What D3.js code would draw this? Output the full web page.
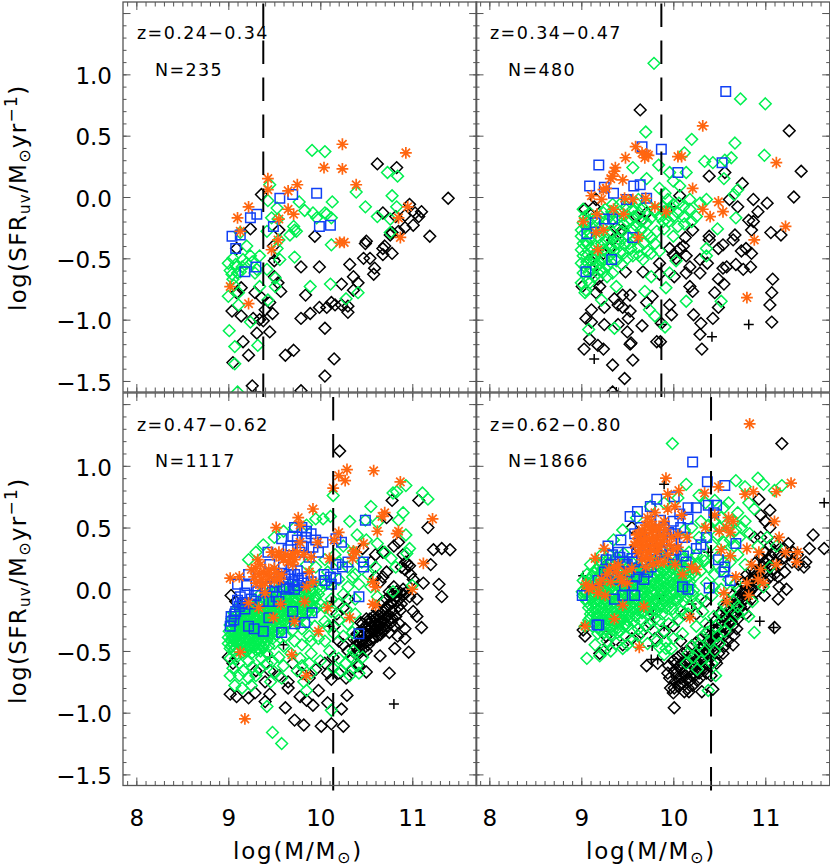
<!DOCTYPE html>
<html>
<head>
<meta charset="utf-8">
<script src="https://cdn.jsdelivr.net/npm/d3@7"></script>
<style>
body { margin: 0; background: #fff; }
text { font-family: "DejaVu Sans", sans-serif; fill: #000; }
</style>
</head>
<body>
<svg id="chart" width="830" height="867"></svg>
<script>
const zLabels = ["z=0.24\u22120.34", "z=0.34\u22120.47", "z=0.47\u22120.62", "z=0.62\u22120.80"];
const nLabels = ["N=235", "N=480", "N=1117", "N=1866"];
const massLimits = [9.38, 9.87, 10.14, 10.41];
const xTicks = [8, 9, 10, 11];
const yTicks = [-1.5, -1, -0.5, 0, 0.5, 1, 1.5];
const yLabelTicks = [-1.5, -1, -0.5, 0, 0.5, 1];

// z=0.24-0.34
const black1 = [[9.36,.02],[9.24,-.26],[9.09,-.42],[9.94,-.32],[10.62,.27],[10.83,.24],[11.39,-.01],[10.68,-.13],[10.82,-.16],[10.92,-.15],[10.97,-.06],[11.03,-.13],[11.1,-.12],[11.07,-.16],[11.01,-.23],[10.92,-.25],[10.85,-.28],[10.78,-.29],[10.76,-.31],[10.7,-.4],[10.68,-.42],[10.78,-.46],[10.68,-.47],[10.5,-.36],[10.49,-.38],[11.19,-.32],[10.47,-.5],[10.54,-.5],[10.59,-.58],[10.58,-.63],[10.32,-.55],[10.36,-.65],[10.41,-.7],[10.36,-.76],[10.23,-.71],[10.3,-.89],[10.3,-.94],[10.23,-.88],[10.16,-.88],[10.12,-.86],[10.07,-.9],[9.99,-.9],[9.89,-.95],[9.79,-.99],[9.84,-.8],[9.99,-.57],[9.79,-.57],[9.57,-.77],[9.54,-.7],[9.5,-.65],[9.5,-.52],[9.55,-.27],[9.49,-.4],[9.29,-.78],[9.36,-.82],[9.14,-.74],[9.09,-.78],[9.04,-.93],[9.14,-.97],[9.27,-.99],[9.34,-1],[9.38,-1.01],[9.4,-.92],[9.48,-.95],[9.45,-1.1],[9.31,-1.11],[9.16,-1.18],[9.22,-1.29],[9.05,-1.35],[9.62,-1.29],[9.71,-1.25],[10.05,-1.07],[10.15,-1.32],[10.05,-1.46],[9.79,-1.58],[9.26,-1.54],[9.45,-.86]];
const green1 = [[9.91,.38],[10.05,.37],[10.73,.2],[10.84,.17],[9.45,.1],[9.43,-.03],[9.77,-.04],[9.83,-.11],[9.53,-.09],[9.92,-.13],[9.96,-.17],[10.05,-.13],[10.07,-.14],[10.13,-.04],[10.49,-.08],[10.39,.04],[10.78,.01],[10.83,-.08],[10.62,-.16],[10.76,-.18],[10.76,-.29],[10.12,-.39],[10.12,-.17],[9.71,-.24],[9.72,-.27],[9.67,-.31],[9.74,-.28],[9.54,-.18],[9.47,-.17],[9.42,-.28],[9.53,-.42],[9.55,-.35],[9.72,-.49],[9.56,-.51],[9.34,-.48],[9.24,-.48],[9.16,-.51],[9.05,-.5],[9,-.54],[9.02,-.6],[9.04,-.63],[9.05,-.67],[9.09,-.57],[9.13,-.61],[9.2,-.54],[9.31,-.59],[9.29,-.62],[9.42,-.59],[9.34,-.73],[9.51,-.66],[9.51,-.73],[9.89,-.73],[10.11,-.71],[10.28,-.83],[10.41,-.78],[9.43,-.84],[9.11,-.78],[9.11,-.88],[9,-.81],[9.24,-1.02],[9.01,-1.09],[9.07,-1.22],[9.32,-1.21],[9.07,-1.36],[9.1,-1.59],[9.2,-.4],[9.13,-.29],[9.08,-.55],[9.1,-.62],[9.15,-.57],[9.26,-.53],[9.06,-.72]];
const blue1 = [[9.96,.03],[9.7,.02],[9.56,-.01],[9.31,-.14],[9.24,-.17],[9.49,-.24],[9.99,-.24],[10.11,-.23],[9.04,-.32],[9.13,-.31],[9.08,-.42],[9.18,-.61],[9.3,-.57]];
const orange1 = [[10.24,.43],[10.93,.36],[10.04,.24],[10.24,.23],[9.43,.15],[9.43,.06],[9.65,.05],[9.75,.1],[10.39,.1],[9.22,-.08],[9.1,-.17],[9.13,-.28],[9.65,-.1],[9.71,-.14],[9.55,-.18],[9.54,-.35],[9.47,-.43],[10.21,-.37],[10.26,-.37],[10.85,-.17],[10.95,-.08],[10.87,-.33],[9.02,-.73],[9.22,-.87]];
const plus1 = [[9.3,-1.59],[9.5,-.5]];

// z=0.34-0.47
const black2 = [[9.64,.71],[11.26,.54],[11.39,.21],[11.31,0],[10.39,.17],[10.56,.2],[10.75,.11],[10.87,-.02],[11.02,-.05],[10.92,-.12],[10.82,-.19],[10.87,-.2],[10.85,-.27],[11.06,-.29],[11.17,-.31],[10.61,-.02],[10.7,-.08],[10.21,-.27],[10.13,-.33],[10.39,-.32],[10.39,-.35],[10.67,-.31],[10.65,-.35],[10.49,-.42],[10.54,-.39],[10.79,-.42],[10.74,-.44],[10.85,-.46],[10.68,-.55],[10.58,-.57],[10.54,-.58],[10.76,-.59],[10.84,-.57],[11.08,-.67],[11.07,-.78],[11.05,-.88],[11.07,-1.02],[10.55,-.71],[10.49,-.67],[10.45,-.78],[10.49,-.9],[10.43,-.99],[10.3,-1.03],[10.29,-1.12],[10.31,-1.24],[10.22,-.96],[10.21,-.77],[10.18,-.73],[10.29,-.62],[10.37,-.54],[10.29,-.51],[10.18,-.57],[10.14,-.62],[10.11,-.4],[10.07,-.42],[10.14,-.48],[10.03,-.5],[9.96,-.42],[10,-.47],[10.01,-.65],[9.85,-.54],[9.85,-.63],[9.67,-.61],[9.48,-.61],[9.16,-.78],[9.2,-.73],[9.45,-.8],[9.53,-.8],[9.36,-.83],[9.4,-.88],[9.45,-.9],[9.53,-.93],[9.51,-.99],[9.4,-1.04],[9.25,-1.04],[9.11,-.92],[9.05,-.99],[9.11,-1.02],[9.25,-.9],[9.66,-1.05],[9.77,-.81],[9.71,-.86],[9.96,-.88],[9.98,-.96],[9.87,-1.03],[9.5,-1.1],[9.09,-1.16],[9.18,-1.21],[9.24,-1.24],[9.03,-1.24],[9.53,-1.2],[9.54,-1.19],[9.82,-1.18],[9.86,-1.18],[9.56,-1.33],[9.34,-1.37],[9.47,-1.48],[9.34,-1.59],[9.04,-.1],[9.16,-.02],[9.14,-.08],[10.07,.01],[9.38,-.25],[9.45,-.27],[9.6,-.16],[9.67,-.18],[9.71,-.13],[9.34,-.35],[9.42,-.29],[9.31,-.42],[9.24,-.46],[9.09,-.51],[9.11,-.59],[9.18,-.67],[9.01,-.73]];
const green2 = [[9.79,1.09],[10.73,.8],[11,.76],[9.7,.53],[10.2,.47],[10.67,.44],[10.99,.34],[10.12,.36],[10.34,.29],[10.43,.28],[10.63,.32],[10.56,.3],[9.84,.26],[9.56,.24],[10.55,.15],[10.14,.2],[9.96,.2],[10,.13],[10.07,.09],[9.71,.15],[9.85,.07],[9.91,.03],[10.7,.06],[10.66,.02],[10.18,-.02],[10.29,-.05],[10.36,-.02],[10.11,-.08],[10.05,-.13],[10.11,-.16],[9.89,-.2],[10.25,-.16],[10.18,-.1],[10.68,-.17],[10.48,-.26],[10.05,-.24],[10,-.32],[9.76,-.33],[10.36,-.42],[10.36,-.48],[10.03,-.52],[9.76,-.46],[9.67,-.51],[9.85,-.44],[9.96,-.62],[9.76,-.65],[9.92,-.74],[9.69,-.77],[10.14,-.85],[10.52,-.85],[9.22,-.84],[9.36,-1.07],[9.08,-1.08],[9.91,-1.06],[9.8,-.97],[9.74,-.92],[9.02,-.1],[9.04,-.16],[9.02,-.21],[9,-.27],[9,-.32],[9.02,-.38],[9,-.43],[9.02,-.48],[9,-.54],[9.04,-.57],[9.09,-.13],[9.11,-.18],[9.05,-.24],[9.09,-.29],[9.05,-.36],[9.11,-.42],[9.07,-.47],[9.13,-.51],[9.16,-.57],[9.2,-.54],[9.25,-.51],[9.31,-.48],[9.24,-.43],[9.31,-.4],[9.38,-.38],[9.47,-.39],[9.54,-.42],[9.34,-.29],[9.27,-.35],[9.24,-.13],[9.34,-.06],[9.31,-.16],[9.38,-.16],[9.49,-.08],[9.56,-.1],[9.63,-.13],[9.76,-.17],[9.67,-.09],[9.6,-.05],[9.53,-.18],[9.56,-.27],[9.65,-.27],[9.71,-.21],[9.34,-.62],[9.38,-.73],[9,-.7],[9.04,-.78],[9.05,-.76],[9.09,-.7],[9.24,-.61],[9.18,-.62],[9.14,-.65],[9.14,-.47],[9.19,-.33],[9.22,-.24],[9.16,-.4],[9.42,-.45],[9.46,-.22],[9.5,-.31],[9.58,-.35],[9.62,-.41],[9.42,-.12],[9.9,-.12],[9.95,-.1],[10,-.16],[9.92,-.18],
[9.06,-.2],[9.13,-.26],[9.17,-.17],[9.2,-.28],[9.27,-.22],[9.3,-.3],[9.36,-.2],[9.4,-.34],[9.44,-.28],[9.5,-.2],[9.52,-.38],[9.6,-.24],[9.62,-.32],[9.68,-.38],[9.72,-.3],[9.57,-.16],[9.65,-.2],[9.47,-.15],[9.07,-.38],[9.1,-.33],[9.15,-.28],[9.18,-.44],[9.22,-.38],[9.28,-.45],[9.35,-.44],[9.41,-.38],[9.46,-.46],[9.08,-.62],[9.12,-.55],[9.2,-.6],[9.22,-.5],[9.28,-.56],[9.32,-.53],[9.38,-.52],[9.44,-.55],[9.5,-.5],[9.56,-.48],[9.63,-.48],[9.28,-.65],[9.02,-.62],[9.07,-.68],[9.06,-.53],[9.33,-.12],[9.26,-.1],[9.42,-.06],[9.53,-.04],[9.62,-.02],[9.72,-.06],[9.8,-.12],[9.85,-.16],[9.95,-.2],[9.88,-.08],[9.94,-.02],[10,-.06],[10.06,-.05],[10.12,-.22],[10.2,-.2],[9.82,-.28],[9.9,-.26],[9.72,-.44],[9.8,-.38]];
const blue2 = [[10.57,.86],[9.66,.41],[9.87,.39],[9.19,.26],[10.05,.2],[10.53,.28],[9.09,.09],[9.25,.08],[9.57,.09],[9.64,.1],[9.35,.03],[9.49,-.02],[9.71,-.01],[9.34,-.18],[9.25,-.18],[9.15,-.21],[9.06,-.3],[9.56,-.33],[9.33,-.51],[9.05,-.61]];
const orange2 = [[10.32,.58],[11.12,.28],[9.59,.41],[9.48,.32],[9.71,.35],[9.69,.32],[10.05,.33],[10.09,.33],[9.37,.24],[9.34,.17],[9.45,.14],[9.27,.07],[9.24,.06],[9.11,.01],[9.22,-.02],[9.47,-.01],[9.56,-.02],[9.7,-.01],[9.8,-.08],[9.92,-.12],[10.21,.07],[10.49,-.04],[10.32,-.1],[10.4,-.16],[10.54,-.12],[11.22,-.24],[10.88,-.35],[10.8,-.82],[9.35,-.1],[9.17,-.14],[9.46,-.14],[9.02,-.2],[9.24,-.27],[9.16,-.29],[9.18,-.43],[9.62,-.33],[9.36,.21],[9.32,.15],[9.66,.36],[9.73,.34]];
const plus2 = [[9.14,-1.32],[10.42,-1.14],[10.82,-1.04],[9.98,-.08],[9.38,-1.59],[9.87,-1.04]];

// z=0.47-0.62
const black3 = [[10.21,1.12],[10.78,.72],[11.07,.72],[10.72,.58],[11.17,.5],[11.32,.33],[11.41,.32],[11.23,.32],[11.2,.2],[10.93,.22],[10.97,.19],[11.01,.08],[11.12,.05],[11.29,.04],[11.32,-.06],[11.05,-.08],[10.87,-.03],[10.9,0],[11.01,-.18],[11.05,-.22],[11.1,-.31],[10.92,-.32],[10.92,-.4],[10.81,-.48],[10.96,-.51],[10.65,-.54],[10.75,-.68],[10.5,-.67],[10.29,-.86],[10.23,-.97],[10.25,-1.11],[10.12,-1.09],[10.01,-1.11],[10.08,-.92],[10.12,-.73],[9.98,-.82],[9.92,-.94],[9.85,-.9],[9.78,-.87],[9.65,-.8],[9.62,-.96],[9.82,-1.1],[9.72,-1.06],[9.45,-.85],[9.4,-.91],[9.29,-.84],[9.22,-.88],[9.09,-.87],[9.02,-.85],[10.38,-.46],[10.42,-.44],[10.46,-.42],[10.5,-.38],[10.54,-.36],[10.58,-.34],[10.62,-.3],[10.66,-.27],[10.7,-.24],[10.74,-.21],[10.78,-.18],[10.36,-.4],[10.4,-.36],[10.44,-.34],[10.48,-.31],[10.52,-.28],[10.56,-.26],[10.6,-.24],[10.64,-.21],[10.68,-.18],[10.72,-.15],[10.42,-.5],[10.47,-.48],[10.52,-.45],[10.57,-.41],[10.62,-.38],[10.67,-.34],[10.72,-.3],[10.77,-.27],[10.82,-.22],[10.5,-.5],[10.46,-.28],[10.55,-.32],[10.6,-.29],[10.65,-.37],[10.7,-.33],[10.5,-.32],[10.58,-.22],[10.62,-.17],[10.68,-.1],[10.72,-.08],[10.75,-.02],[10.8,.02],[10.78,-.05],[10.83,-.1],[10.85,-.14],[10.88,-.12],[10.65,.06],[10.68,.1],[10.72,.14],[10.6,.1],[10.55,.22],[10.6,.28],[10.68,.3],[10.8,.35],[10.85,.38],[10.88,.18],[10.92,.16],[10.95,.2],[10.9,.28],[10.98,.12],[10.83,-.02],[10.93,-.03],[10.97,-.06],[10.87,-.17],[10.46,.33],[10.05,-.6],[10.08,-.68],[10.14,-.55],[10.2,-.42],[10.25,-.45],[10.3,-.5],[10.35,-.56],[10.2,-.68],[10.28,-.72],[10.35,-.65],[10.42,-.62],[9.95,-.65],[9.88,-.72],[9.8,-.68],[9.7,-.6],[9.65,-.75],[9.55,-.7],[9.45,-.66],[9.4,-.75],[9.3,-.66],[9.05,-.6],[9,-.55],[9.03,-.05],[9.08,-.1],[10.15,-.3],[10.18,-.2],[10.25,-.15],[10.3,-.08],
[10.4,-.41],[10.44,-.39],[10.48,-.36],[10.52,-.34],[10.56,-.31],[10.6,-.33],[10.64,-.3],[10.68,-.26],[10.72,-.22],[10.76,-.24],[10.46,-.45],[10.5,-.43],[10.54,-.41],[10.58,-.39],[10.62,-.34],[10.66,-.32],[10.7,-.29],[10.74,-.26],[10.78,-.23],[10.54,-.24],[10.58,-.28],[10.62,-.25],[10.66,-.2],[10.7,-.17],[10.74,-.13],[10.78,-.11],[10.82,-.06],[10.86,-.08],[10.9,-.04],[10.44,-.27],[10.5,-.24],[10.42,-.52],[10.38,-.52],[10.75,-.35],[10.8,-.3],[10.86,-.28],[10.84,-.38]];
const green3 = [[10.14,.76],[10.79,.78],[10.83,.79],[10.93,.84],[11.11,.78],[11.17,.73],[10.55,.67],[10.9,.62],[10.85,.56],[10.62,.54],[10.49,.56],[10.32,.55],[10.11,.59],[10.03,.57],[9.95,.57],[10.93,.44],[10.97,.33],[10.94,.29],[11,.03],[10.79,-.02],[9.22,.24],[9.3,.3],[9.38,.36],[9.5,.42],[9.6,.47],[9.72,.5],[9.85,.52],[10.4,.44],[10.5,.4],[10.62,.37],[10.7,.3],[10.77,.25],[10.82,.18],[10.6,.18],[10.52,.12],[10.45,.22],[10.36,.3],[10.25,.35],[10.16,.28],[10.08,.14],[10.2,.08],[10.3,.02],[10.42,.04],[10.55,.02],[10.62,-.06],[10.38,-.08],[10.28,-.16],[10.2,-.25],[10.12,-.18],[10,-.12],[10.05,-.26],[9.94,-.3],[9.98,-.4],[9.88,-.38],[9.8,-.45],[9.72,-.42],[9.62,-.38],[9.68,-.52],[9.78,-.56],[9.9,-.52],[10,-.58],[10.1,-.5],[10.2,-.56],[10.28,-.6],[10.36,-.5],[10.4,-.62],[10.46,-.55],[10.32,-.7],[10.22,-.66],[10.14,-.64],[9.9,-.68],[9.82,-.75],[9.88,-.6],[9.6,-.62],[9.55,-.55],[9.5,-.67],[9.42,-.6],[9.34,-.65],[9.22,-.72],[9.12,-.7],[9.02,-.7],[9.07,-.78],[9.15,-.8],[9.25,-.78],[9.3,-.7],[9.46,-.75],[9.58,-.72],[9.75,-.66],[9.42,-.95],[9.48,-1.16],[9.58,-1.25],[10.12,-.98],[9.85,-.82],[9.8,-.62],[10.33,-.55],[10.42,-.68],
[9.02,-.48],[9.06,-.5],[9.11,-.49],[9.16,-.51],[9.2,-.5],[9.25,-.52],[9.3,-.49],[9.35,-.5],[9,-.44],[9.05,-.45],[9.09,-.43],[9.14,-.45],[9.19,-.44],[9.24,-.46],[9.29,-.44],[9.34,-.45],[9.39,-.44],[9.44,-.46],[9,-.39],[9.04,-.4],[9.08,-.38],[9.13,-.4],[9.18,-.39],[9.23,-.4],[9.28,-.38],[9.33,-.4],[9.38,-.39],[9.43,-.38],[9.48,-.4],[9.01,-.34],[9.05,-.35],[9.1,-.33],[9.15,-.35],[9.2,-.34],[9.25,-.35],[9.3,-.33],[9.35,-.34],[9.4,-.35],[9.45,-.33],[9.5,-.34],[9.55,-.35],[9.02,-.29],[9.07,-.3],[9.12,-.28],[9.17,-.3],[9.22,-.29],[9.27,-.3],[9.32,-.28],[9.37,-.29],[9.42,-.3],[9.47,-.28],[9.52,-.29],[9.57,-.3],[9.62,-.28],[9.04,-.24],[9.09,-.25],[9.14,-.23],[9.19,-.25],[9.24,-.24],[9.29,-.25],[9.34,-.23],[9.39,-.24],[9.44,-.25],[9.49,-.23],[9.54,-.24],[9.59,-.25],[9.64,-.23],[9.69,-.24],[9.74,-.25],[9.06,-.19],[9.11,-.2],[9.16,-.18],[9.21,-.2],[9.26,-.19],[9.31,-.2],[9.36,-.18],[9.41,-.19],[9.46,-.2],[9.51,-.18],[9.56,-.19],[9.61,-.2],[9.66,-.18],[9.71,-.19],[9.76,-.2],[9.81,-.18],[9.86,-.19],[9.12,-.14],[9.18,-.15],[9.24,-.13],[9.3,-.15],[9.36,-.14],[9.42,-.15],[9.48,-.13],[9.54,-.14],[9.6,-.15],[9.66,-.13],[9.72,-.14],[9.78,-.15],[9.84,-.13],[9.9,-.14],[9.96,-.15],[9.28,-.09],[9.34,-.1],[9.4,-.08],[9.46,-.09],[9.52,-.1],[9.58,-.08],[9.64,-.09],[9.7,-.1],[9.76,-.08],[9.82,-.09],[9.88,-.1],[9.94,-.08],[9.35,-.04],[9.42,-.05],[9.49,-.03],[9.56,-.04],[9.63,-.05],[9.7,-.03],[9.77,-.04],[9.84,-.05],[9.91,-.03],[9.98,-.04],[9.5,.02],[9.58,.01],[9.66,.03],[9.74,.02],[9.82,.01],[9.9,.03],[9.98,.02],[10.06,.04],
[9.03,-.46],[9.08,-.47],[9.13,-.46],[9.18,-.47],[9.23,-.48],[9.28,-.47],[9.33,-.48],[9.38,-.47],[9.03,-.42],[9.07,-.41],[9.12,-.42],[9.17,-.41],[9.22,-.42],[9.27,-.41],[9.32,-.42],[9.37,-.41],[9.42,-.42],[9.03,-.37],[9.07,-.36],[9.12,-.37],[9.17,-.36],[9.22,-.37],[9.27,-.36],[9.32,-.37],[9.37,-.36],[9.42,-.37],[9.47,-.36],[9.52,-.37],[9.04,-.32],[9.09,-.31],[9.14,-.32],[9.19,-.31],[9.24,-.32],[9.29,-.31],[9.34,-.32],[9.39,-.31],[9.44,-.32],[9.49,-.31],[9.54,-.32],[9.59,-.33],[9.06,-.27],[9.11,-.26],[9.16,-.27],[9.21,-.26],[9.26,-.27],[9.31,-.26],[9.36,-.27],[9.41,-.26],[9.46,-.27],[9.51,-.26],[9.56,-.27],[9.61,-.26],[9.66,-.27],[9.08,-.22],[9.13,-.21],[9.18,-.22],[9.23,-.21],[9.28,-.22],[9.33,-.21],[9.38,-.22],[9.43,-.21],[9.48,-.22],[9.53,-.21],[9.58,-.22],[9.63,-.21],[9.68,-.22],[9.73,-.21],[9.78,-.22],[9.15,-.17],[9.21,-.16],[9.27,-.17],[9.33,-.16],[9.39,-.17],[9.45,-.16],[9.51,-.16],[9.57,-.17],[9.63,-.16],[9.69,-.17],[9.75,-.16],[9.81,-.16],[9.87,-.17],[9.93,-.17],[9.31,-.12],[9.37,-.11],[9.43,-.12],[9.49,-.11],[9.55,-.12],[9.61,-.11],[9.67,-.12],[9.73,-.11],[9.79,-.12],[9.85,-.11],[9.91,-.12],[9.38,-.06],[9.45,-.07],[9.52,-.06],[9.59,-.07],[9.66,-.06],[9.73,-.07],[9.8,-.06],[9.87,-.07],[9.94,-.06],[9.46,-.01],[9.53,-.01],[9.6,-.02],[9.68,-.01],[9.76,-.02],[9.84,-.01],[9.92,0],[10,0],
[9.85,.2],[9.95,.18],[10.05,.24],[10.2,.22],[10.3,.18],[10.38,.12],[10.02,.06],[10.12,.04],[10.25,-.04],[10.35,.1],[10.12,-.08],[10.2,-.12],[10.05,-.15],[10.15,-.36],[10.08,-.3],[10.3,-.28],[10.38,-.2],[10.25,-.38],[10.35,-.35],[9.9,-.42],[10.05,-.42],[9.7,-.33],[9.8,-.32],[9.85,-.28],[9.6,-.46],[9.5,-.44],[9.42,-.52],[9.36,-.56],[9.22,-.58],[9.12,-.6],[9.08,-.56],[9.02,-.56],[9.05,-.64],[9.16,-.66],[9.26,-.63],[9.48,-.58]];
const blue3 = [[10.49,.56],[9.8,.5],[9.72,.5],[9.85,.47],[9.9,.45],[9.7,.43],[9.58,.41],[9.75,.4],[9.8,.35],[9.95,.4],[10.03,.38],[10.17,.41],[10.23,.38],[9.43,.3],[9.65,.32],[9.78,.3],[9.88,.26],[9.98,.3],[10.17,.2],[10.24,.18],[10.3,.22],[10.47,.22],[10.47,.18],[9.22,.12],[9.45,.2],[9.6,.18],[9.68,.16],[9.72,.12],[9.75,.15],[9.55,.1],[9.62,.08],[9.7,.06],[9.8,.09],[9.9,.06],[10.05,.07],[10.17,.09],[10.12,.04],[9.1,.04],[9.2,.03],[9.45,.02],[9.6,.02],[9.75,.03],[9.82,.05],[9.18,-.03],[9.32,-.02],[9.48,-.02],[9.63,0],[9.1,-.09],[9.15,-.11],[9.24,-.12],[9.38,-.1],[9.44,-.1],[9.55,-.1],[9.03,-.22],[9.06,-.25],[9.07,-.2],[9.22,-.3],[9.28,-.32],[9.38,-.34],[9.44,-.23],[9.7,-.18],[9.91,-.19],[9.72,-.28],[9.83,-.27],[9.58,-.35],[10.42,-.36],[10.42,-.06],[9.02,-.3],[9.03,-.26],[9.16,-.12],
[9.68,.35],[9.84,.42],[9.92,.34],[9.66,.12],[9.76,.07],[9.58,.13],[9.52,.06],[9.66,.01],[9.72,0],[9.25,-.08],[9.13,-.06],[9.12,-.14],[9.18,-.16],[9.08,-.18],[9.3,-.05],[9.52,-.06],[9.4,.02],[9.86,.1],[10.04,.12],[10.11,.1]];
const orange3 = [[10.29,.97],[10.2,.92],[10.27,.88],[10.58,.96],[10.87,.87],[10.14,.82],[10.7,.62],[10.67,.59],[11.22,.57],[9.92,.65],[9.76,.58],[9.78,.52],[9.52,.5],[10.62,.47],[10.85,.47],[10.83,.45],[10.2,.46],[10.15,.4],[9.78,.38],[9.97,.38],[10.47,.37],[10.36,.31],[10.39,.3],[11.12,.21],[9.55,.3],[9.62,.28],[9.68,.26],[9.75,.3],[9.82,.28],[9.65,.22],[9.7,.2],[9.72,.24],[9.9,.26],[10.1,.25],[10.35,.25],[9.32,.24],[9.35,.2],[9.3,.17],[9.25,.16],[9.38,.14],[9.42,.12],[9.5,.17],[9.58,.12],[9.45,.1],[9.5,.07],[9.4,.05],[9.36,.03],[9.02,.09],[9.12,.1],[9.88,.14],[9.92,.06],[9.85,.02],[9.4,-.03],[10.57,.06],[10.6,.02],[11,0],[9.83,-.1],[9.22,-.11],[9.33,-.15],[9.57,-.12],[10.08,-.15],[10.57,-.12],[10.6,-.13],[9.49,-.23],[9.72,-.26],[10.32,-.23],[9.98,-.34],[9.13,-.51],[9.69,-.53],[9.85,-.7],[9.18,-1.05],
[9.34,.12],[9.28,.1],[9.44,.16],[9.52,.13],[9.56,.08],[9.6,.24],[9.58,.26],[9.7,.29],[9.47,.3],[9.52,.27],[9.36,.08],[9.3,.05]];
const plus3 = [[10.8,-.93],[9.45,-.55],[9.6,-.45],[10.1,-.3],[10.12,-.1]];

// z=0.62-0.80
const black4 = [[11.18,1.18],[10.93,.73],[11.05,.64],[11.52,.44],[11.64,.33],[11.48,.33],[11.44,.22],[11.42,.18],[11.23,0],[11.14,-.08],[11.1,-.31],[10.65,-.45],[10.54,-.52],[10.01,-.96],[10.31,-.83],[10.43,-.81],[10.17,-.83],[10.01,-.8],[10.07,-.77],[9.94,-.68],[9.71,-.62],[9.83,-.6],[10.47,-.6],[9.04,-.38],[9.27,-.38],[9.2,-.52],[9.02,-.33],
[9.95,-.62],[9.96,-.72],[9.97,-.8],[10,-.58],[10.01,-.66],[10.02,-.75],[10,-.84],[10.05,-.55],[10.06,-.63],[10.04,-.71],[10.06,-.79],[10.1,-.52],[10.09,-.6],[10.11,-.68],[10.1,-.76],[10.12,-.83],[10.15,-.5],[10.16,-.58],[10.14,-.65],[10.15,-.73],[10.16,-.8],[10.2,-.46],[10.19,-.54],[10.21,-.62],[10.2,-.7],[10.21,-.78],[10.25,-.43],[10.26,-.5],[10.24,-.58],[10.25,-.66],[10.26,-.74],[10.3,-.4],[10.29,-.48],[10.31,-.56],[10.3,-.64],[10.29,-.72],[10.35,-.36],[10.36,-.44],[10.34,-.52],[10.35,-.6],[10.36,-.68],[10.4,-.3],[10.39,-.38],[10.41,-.46],[10.4,-.54],[10.39,-.62],[10.41,-.7],[10.45,-.26],[10.46,-.34],[10.44,-.42],[10.45,-.5],[10.46,-.58],[10.5,-.2],[10.49,-.28],[10.51,-.36],[10.5,-.44],[10.49,-.52],[10.55,-.15],[10.56,-.22],[10.54,-.3],[10.55,-.38],[10.56,-.46],[10.6,-.1],[10.59,-.18],[10.61,-.26],[10.6,-.34],[10.59,-.42],[10.65,-.05],[10.66,-.13],[10.64,-.21],[10.65,-.29],[10.66,-.37],[10.7,0],[10.69,-.08],[10.71,-.16],[10.7,-.24],[10.69,-.32],[10.75,.05],[10.76,-.02],[10.74,-.1],[10.75,-.18],[10.8,.12],[10.79,.04],[10.81,-.04],[10.8,-.12],[10.79,-.2],[10.85,.15],[10.86,.07],[10.84,0],[10.85,-.08],[10.9,.22],[10.89,.14],[10.91,.06],[10.9,-.02],[10.95,.26],[10.96,.18],[10.94,.1],[11,.3],[10.99,.22],[11.01,.14],[11,.06],[10.99,-.05],[11.05,.35],[11.06,.27],[11.04,.19],[11.05,.1],[11.1,.38],[11.09,.3],[11.11,.22],[11.1,.12],[11.15,.28],[11.16,.2],[11.14,.1],[11.15,.02],[11.2,.33],[11.19,.25],[11.21,.14],[11.25,.37],[11.26,.28],[11.3,.3],[11.29,.22],[11.35,.28],[11.36,.2],[10.95,.6],[11,.55],[11.05,.5],[10.88,.42],[10.95,.42],[9.3,-.45],[9.45,-.45],[9.55,-.4],[9.65,-.35],[9.75,-.28],[9.8,-.4],[9.9,-.35],[10,-.3],[10.08,-.42],[10.12,-.2],[10.25,-.2],[10.35,-.1],[9.05,-.02],[9.25,.18],[9.6,.35],[9.55,.5],
[10.03,-.6],[10.08,-.64],[10.03,-.68],[10.08,-.72],[10.13,-.6],[10.18,-.58],[10.18,-.66],[10.13,-.7],[10.18,-.74],[10.23,-.54],[10.23,-.62],[10.23,-.7],[10.28,-.52],[10.28,-.6],[10.28,-.68],[10.33,-.46],[10.33,-.56],[10.33,-.64],[10.38,-.42],[10.38,-.5],[10.43,-.38],[10.43,-.5],[10.48,-.32],[10.48,-.42],[10.53,-.26],[10.53,-.36],[10.58,-.24],[10.58,-.3],[10.63,-.16],[10.63,-.26],[10.68,-.12],[10.68,-.2],[10.73,-.06],[10.73,-.14],[10.78,-.02],[10.78,-.08],[10.83,.08],[10.83,-.02],[10.88,.1],[10.88,.02],[10.93,.14],[10.97,.14],[11.03,.24],[11.08,.16]];
const green4 = [[9.99,1.18],[10.92,.9],[10.98,.85],[10.68,.88],[10.78,.83],[11.1,.8],[11.18,.84],[10.14,.85],[10.28,.76],[10.6,.7],[10.82,.7],[10.88,.65],[10.7,.62],[10.78,.55],[10.83,.45],[10.72,.42],[10.92,.35],[11.02,.42],[11.12,.35],[11.05,.18],[10.98,.02],[10.86,-.1],[10.7,-.2],[10.62,-.28],[10.55,-.12],[10.82,-.22],[10.88,-.35],[10.45,-.5],[10.37,-.35],[10.28,-.45],[10.22,-.55],[10.14,-.6],[10.26,-.65],[10.34,-.5],[10.48,-.38],[10.46,-.7],[10.38,-.82],[9.06,-.56],[9.2,-.54],[9.25,-.5],[9.45,-.48],[9.5,-.45],[9.9,-.53],[9.92,-.48],[9.04,-.3],[9.01,-.02],[9.02,.07],[9.06,.12],[9.1,.2],[9.22,.28],[9.35,.4],[9.45,.48],[9.6,.58],[9.75,.67],[9.9,.7],[10.05,.74],[10.35,.7],[10.45,.72],[10.55,.66],[10.65,.55],[10.5,.5],[10.62,.4],[10.55,.38],[10.42,.36],[10.7,.28],[10.62,.22],[10.78,.2],[10.52,.15],[10.45,.12],[10.6,.08],[10.68,.05],[10.52,0],[10.42,-.05],[10.32,-.18],[10.16,-.2],[10.05,-.25],[10.1,-.36],[10,-.4],[9.95,-.28],[9.85,-.25],[9.78,-.33],[9.7,-.3],[9.62,-.38],[9.72,-.44],[9.82,-.42],[9.55,-.33],[9.48,-.38],[9.38,-.44],[9.28,-.42],[9.15,-.45],[9.32,-.5],
[9.85,.28],[9.93,.29],[10.01,.27],[10.09,.28],[10.17,.3],[10.25,.28],[10.33,.27],[9.3,.28],[9.38,.26],[9.46,.29],[9.22,.22],[9.3,.21],[9.4,.23],[9.48,.22],[9.56,.21],[9.78,.22],[9.86,.23],[9.94,.21],[10.02,.22],[10.1,.24],[10.18,.22],[10.26,.21],[10.34,.23],[9.16,.16],[9.24,.17],[9.33,.15],[9.41,.16],[9.5,.17],[9.58,.15],[9.66,.16],[9.74,.17],[9.82,.15],[9.9,.16],[9.98,.17],[10.06,.15],[10.14,.16],[10.22,.17],[10.3,.15],[9.12,.11],[9.19,.1],[9.26,.12],[9.33,.1],[9.4,.11],[9.47,.09],[9.54,.11],[9.61,.1],[9.68,.12],[9.75,.1],[9.82,.11],[9.89,.09],[9.96,.11],[10.03,.1],[10.1,.12],[10.17,.1],[10.24,.11],[9.06,.05],[9.13,.06],[9.2,.04],[9.27,.05],[9.34,.06],[9.41,.04],[9.48,.05],[9.55,.06],[9.62,.04],[9.69,.05],[9.76,.06],[9.83,.04],[9.9,.05],[9.97,.06],[10.04,.04],[10.11,.05],[10.18,.06],[9.03,0],[9.1,.01],[9.17,-.01],[9.24,0],[9.31,.01],[9.38,-.01],[9.45,0],[9.52,.01],[9.59,-.01],[9.66,0],[9.73,.01],[9.8,-.01],[9.87,0],[9.94,.01],[10.01,-.01],[10.08,0],[10.15,.01],[10.22,-.01],[9.02,-.05],[9.09,-.06],[9.16,-.04],[9.23,-.05],[9.3,-.06],[9.37,-.04],[9.44,-.05],[9.51,-.06],[9.58,-.04],[9.65,-.05],[9.72,-.06],[9.79,-.04],[9.86,-.05],[9.93,-.06],[10,-.04],[10.07,-.05],[10.14,-.06],[10.21,-.04],[9.06,-.1],[9.13,-.11],[9.2,-.09],[9.27,-.1],[9.34,-.11],[9.41,-.09],[9.48,-.1],[9.55,-.11],[9.62,-.09],[9.69,-.1],[9.76,-.11],[9.83,-.09],[9.9,-.1],[9.97,-.11],[10.04,-.09],[10.11,-.1],[9.08,-.15],[9.15,-.16],[9.22,-.14],[9.29,-.15],[9.36,-.16],[9.43,-.14],[9.5,-.15],[9.57,-.16],[9.64,-.14],[9.71,-.15],[9.78,-.16],[9.85,-.14],[9.92,-.15],[9.99,-.16],[9.1,-.2],[9.17,-.21],[9.24,-.19],[9.31,-.2],[9.38,-.21],[9.45,-.19],[9.52,-.2],[9.59,-.21],[9.66,-.19],[9.73,-.2],[9.08,-.25],[9.15,-.26],[9.22,-.24],[9.29,-.25],[9.36,-.26],[9.43,-.24],[9.5,-.25],[9.57,-.26],[9.12,-.3],[9.19,-.31],[9.26,-.29],[9.33,-.3],[9.4,-.31],[9.47,-.29],[9.18,-.36],[9.25,-.35],[9.32,-.37],[9.39,-.35],
[9.2,.19],[9.28,.18],[9.36,.19],[9.44,.2],[9.52,.19],[9.6,.18],[9.68,.19],[9.76,.2],[9.84,.19],[9.92,.18],[10,.2],[10.08,.19],[10.16,.2],[10.24,.19],[9.14,.13],[9.22,.14],[9.3,.13],[9.37,.13],[9.44,.14],[9.51,.13],[9.58,.13],[9.65,.14],[9.72,.13],[9.79,.13],[9.86,.14],[9.93,.13],[10,.13],[10.07,.14],[10.14,.13],[10.21,.13],[9.09,.08],[9.16,.08],[9.23,.07],[9.3,.08],[9.37,.08],[9.44,.07],[9.51,.08],[9.58,.08],[9.65,.07],[9.72,.08],[9.79,.08],[9.86,.07],[9.93,.08],[10,.08],[10.07,.07],[10.14,.08],[9.06,.02],[9.13,.03],[9.2,.02],[9.27,.02],[9.34,.03],[9.41,.02],[9.48,.02],[9.55,.03],[9.62,.02],[9.69,.02],[9.76,.03],[9.83,.02],[9.9,.02],[9.97,.03],[10.04,.02],[10.11,.02],[10.18,.03],[9.05,-.03],[9.12,-.02],[9.19,-.03],[9.26,-.03],[9.33,-.02],[9.4,-.03],[9.47,-.03],[9.54,-.02],[9.61,-.03],[9.68,-.03],[9.75,-.02],[9.82,-.03],[9.89,-.03],[9.96,-.02],[10.03,-.03],[10.1,-.03],[10.17,-.02],[9.05,-.08],[9.12,-.07],[9.19,-.08],[9.26,-.08],[9.33,-.07],[9.4,-.08],[9.47,-.08],[9.54,-.07],[9.61,-.08],[9.68,-.08],[9.75,-.07],[9.82,-.08],[9.89,-.08],[9.96,-.07],[10.03,-.08],[9.1,-.13],[9.17,-.12],[9.24,-.13],[9.31,-.13],[9.38,-.12],[9.45,-.13],[9.52,-.13],[9.59,-.12],[9.66,-.13],[9.73,-.13],[9.8,-.12],[9.87,-.13],[9.94,-.13],[9.12,-.18],[9.19,-.17],[9.26,-.18],[9.33,-.18],[9.4,-.17],[9.47,-.18],[9.54,-.18],[9.61,-.17],[9.68,-.18],[9.75,-.18],[9.82,-.18],[9.1,-.23],[9.17,-.22],[9.24,-.23],[9.31,-.23],[9.38,-.22],[9.45,-.23],[9.52,-.23],[9.59,-.22],[9.14,-.28],[9.21,-.27],[9.28,-.28],[9.35,-.28],[9.42,-.27],[9.49,-.28],[9.2,-.33],[9.27,-.32],[9.34,-.33],
[10.3,.55],[10.2,.5],[10.12,.48],[10.38,.52],[10.45,.55],[10.52,.58],[10.6,.5],[10.68,.48],[10.74,.5],[10.28,.42],[10.36,.42],[10.48,.44],[10.56,.3],[10.66,.35],[10.48,.26],[10.55,.22],[10.38,.18],[10.44,.02],[10.36,.05],[10.3,-.08],[10.26,-.12],[10.18,-.14],[10.08,-.18],[10.02,-.2],[9.88,-.2],[9.8,-.24],[9.66,-.26],[9.62,-.32],[9.9,-.34],[9.92,-.42],[9.85,-.47],[9.98,-.48],[9.6,-.44],[9.5,-.3],[9.42,-.34],[10.25,-.3],[10.35,-.28],[10.44,-.22],[10.52,-.2],[10.58,-.15],[10.66,-.1],[10.7,-.14],[10.62,-.02],[10.46,-.3],[10.4,-.42],[10.32,-.38],[10.3,-.58],[10.2,-.46],[10.16,-.52],[10.42,-.6],[10.5,-.44],[10.56,-.34]];
const blue4 = [[10.21,1.03],[10.37,.87],[10.56,.84],[10.01,.75],[9.82,.73],[9.75,.67],[9.61,.63],[9.53,.59],[10.25,.66],[10.38,.68],[10.47,.68],[10.16,.66],[10.16,.57],[10.07,.61],[9.43,.4],[9.29,.35],[9.27,.24],[10.36,.42],[10.25,.33],[9.98,.39],[10,.24],[10.11,.27],[10.68,.37],[10.49,.24],[10.56,.18],[10.55,.14],[10.62,.07],[10.39,.01],[10.1,.02],[10.16,0],[9.58,-.05],[9.45,-.05],[9.36,-.08],[9.47,.03],[9.56,.03],[9.18,.07],[9.01,-.05],[9.17,-.29],[9.19,-.29],[9.25,.14],[9.63,.16],[9.76,.18],[9.38,.08],[9.58,.45],[9.66,.42],[9.72,.44],[9.85,.38],[9.9,.5],[10.02,.45],[10.08,.5],[9.6,.3],[9.7,.36],[9.8,.28],[9.92,.32],[9.55,.25],[9.4,.3],[9.46,.22],[9.32,.2],[9.5,.3],[9.35,.12],
[9.88,.44],[9.95,.46],[9.78,.32],[9.86,.3],[9.66,.28],[9.5,.2],[9.58,.22],[9.42,.26],[9.34,.28],[9.29,.14],[9.72,.14],[9.6,.1],[9.52,.14],[9.68,.08],[9.98,.28],[10.03,.32],[10.14,.22],[10.3,.36],[10.12,.42],[10.44,.62],[9.64,.5],[9.75,.55],[9.86,.56],[10,.55]];
const orange4 = [[10.83,1.34],[9.92,.9],[10.49,.83],[11.28,.86],[11.12,.79],[10.06,.8],[9.94,.77],[10.34,.78],[10.78,.77],[10.87,.79],[9.63,-.47],[9.04,-.3],[9.36,-.24],[10.18,-.23],[9.68,-.14],[9.45,-.13],[9.94,.65],[10.02,.67],[10.09,.6],[10.45,.6],[10.6,.58],[10.65,.55],[10.58,.5],[10.62,.46],[10.5,.47],[10.35,.5],[11.1,.55],[11.15,.42],[11.22,.3],[11.35,.3],[11.34,.22],[11.12,.2],[10.93,.3],[10.8,.33],[10.85,.2],[10.95,.16],[10.92,.08],[10.98,.05],[10.8,.05],[10.68,.1],[10.62,.27],[10.52,.32],[10.15,.42],[10.02,.2],[10.1,.12],[10.2,.18],[10.25,.16],[10.55,-.03],[10.58,-.1],[10.82,-.05],[9.9,.22],[9.05,.04],[9.08,0],[9.18,-.03],[9.2,.04],[9.26,-.05],[9.15,.25],[9.25,.33],[9.3,.16],[9.42,.1],[9.48,.14],[9.55,.17],[9.4,.2],[9.36,.18],[9.62,.3],[9.65,.38],[9.68,.45],[9.7,.52],[9.76,.55],[9.74,.4],[9.78,.48],[9.82,.42],[9.85,.5],[9.8,.35],[9.72,.3],[9.66,.24],[9.75,.25],[9.85,.34],[9.9,.42],[9.96,.36],[10.05,.44],[9.62,.45],[9.6,.38],[9.72,.58],[9.8,.62],[9.9,.55],[9.78,.2],[9.84,.22],[9.7,.18],[9.5,.05],
[9.66,.48],[9.7,.42],[9.72,.36],[9.76,.46],[9.78,.4],[9.8,.5],[9.83,.36],[9.74,.5],[9.68,.34],[9.64,.32],[9.7,.26],[9.76,.32],[9.82,.3],[9.88,.38],[9.86,.44],[9.68,.4],[9.6,.44],[9.58,.36],[9.92,.48],[9.98,.42],[10,.32],[10.05,.34],[9.94,.28],[9.28,.12],[9.22,.08],[9.32,.06],[9.38,.14],[9.44,.06],[9.12,.02]];
const plus4 = [[11.64,.7],[9.77,-.46],[9.76,-.57],[9.83,-.57],[10.94,-.26],[11.09,-.31],[9.02,.11],[9.9,.85],[9.78,-.2],[9.9,-.3],[10.2,-.12],[10.38,.3],[9.85,-.05]];

const panels = [
    { black: black1, plus: plus1, green: green1, blue: blue1, orange: orange1 },
    { black: black2, plus: plus2, green: green2, blue: blue2, orange: orange2 },
    { black: black3, plus: plus3, green: green3, blue: blue3, orange: orange3 },
    { black: black4, plus: plus4, green: green4, blue: blue4, orange: orange4 }
];

const svg = d3.select("#chart");
const colLeft = [123, 476], rowTop = [2, 393], rowBottom = [392, 785.5];
const panelWidth = 353.7;
const axisColor = "#555";

// IDL style psym=2 star, four crossing strokes
const starType = { draw(ctx, size) {
    const r = Math.sqrt(size) / 2, q = r * Math.SQRT1_2;
    ctx.moveTo(-r, 0); ctx.lineTo(r, 0);
    ctx.moveTo(0, -r); ctx.lineTo(0, r);
    ctx.moveTo(-q, -q); ctx.lineTo(q, q);
    ctx.moveTo(-q, q); ctx.lineTo(q, -q);
} };
const plusType = { draw(ctx, size) {
    const r = Math.sqrt(size) / 2;
    ctx.moveTo(-r, 0); ctx.lineTo(r, 0);
    ctx.moveTo(0, -r); ctx.lineTo(0, r);
} };

const diamond = d3.symbol().type(d3.symbolDiamond2).size(88)();
const square = d3.symbol().type(d3.symbolSquare2).size(115)();
const star = d3.symbol().type(starType).size(140)();
const plus = d3.symbol().type(plusType).size(100)();

const xMinor = d3.range(79, 117).map(d => d / 10);
const yMinor = d3.range(-15, 16).map(d => d / 10);

function drawTicks(g, axis, move, values, size) {
    g.append("g").attr("transform", move)
        .call(axis.tickValues(values).tickSize(size).tickFormat(""))
        .call(a => a.select(".domain").remove())
        .call(a => a.selectAll("line").attr("stroke", axisColor));
}

function drawMarks(g, data, x, y, path, color, width) {
    g.selectAll(null).data(data).join("path")
        .attr("d", path)
        .attr("transform", d => `translate(${x(d[0])},${y(d[1])})`)
        .attr("fill", "none")
        .attr("stroke", color)
        .attr("stroke-width", width);
}

panels.forEach((p, i) => {
    const col = i % 2, row = Math.floor(i / 2);
    const x = d3.scaleLinear().domain([7.855, 11.7]).range([colLeft[col], colLeft[col] + panelWidth]);
    const y = d3.scaleLinear().domain([-1.59, 1.59]).range([rowBottom[row], rowTop[row]]);
    const g = svg.append("g");

    svg.append("clipPath").attr("id", "clip" + i).append("rect")
        .attr("x", x.range()[0]).attr("y", y.range()[1])
        .attr("width", panelWidth).attr("height", y.range()[0] - y.range()[1]);

    const marks = g.append("g").attr("clip-path", `url(#clip${i})`);
    drawMarks(marks.append("g"), p.black, x, y, diamond, "#000", 1.5);
    drawMarks(marks.append("g"), p.plus, x, y, plus, "#000", 1.5);
    drawMarks(marks.append("g"), p.green, x, y, diamond, "#00f050", 1.5);
    drawMarks(marks.append("g"), p.blue, x, y, square, "#1040f5", 1.5);
    drawMarks(marks.append("g"), p.orange, x, y, star, "#ff6610", 1.7);

    // dashes are counted from the bottom of the panel
    g.append("line")
        .attr("x1", x(massLimits[i])).attr("x2", x(massLimits[i]))
        .attr("y1", y.range()[0] + 5).attr("y2", y.range()[1])
        .attr("stroke", "#000").attr("stroke-width", 2)
        .attr("stroke-dasharray", "23.5 13.5");

    drawTicks(g, d3.axisBottom(x), `translate(0,${y.range()[0]})`, xMinor, -4.5);
    drawTicks(g, d3.axisBottom(x), `translate(0,${y.range()[0]})`, xTicks, -8);
    drawTicks(g, d3.axisTop(x), `translate(0,${y.range()[1]})`, xMinor, -4.5);
    drawTicks(g, d3.axisTop(x), `translate(0,${y.range()[1]})`, xTicks, -8);
    drawTicks(g, d3.axisLeft(y), `translate(${x.range()[0]},0)`, yMinor, -3.5);
    drawTicks(g, d3.axisLeft(y), `translate(${x.range()[0]},0)`, yTicks, -7.5);
    drawTicks(g, d3.axisRight(y), `translate(${x.range()[1]},0)`, yMinor, -3.5);
    drawTicks(g, d3.axisRight(y), `translate(${x.range()[1]},0)`, yTicks, -7.5);

    g.append("rect")
        .attr("x", x.range()[0]).attr("y", y.range()[1])
        .attr("width", panelWidth).attr("height", y.range()[0] - y.range()[1])
        .attr("fill", "none").attr("stroke", axisColor).attr("stroke-width", 1.3);

    const labelX = colLeft[col] + 14;
    const labelY = row === 0 ? [39, 76] : [431, 467];
    g.append("text").attr("x", labelX).attr("y", labelY[0])
        .attr("font-size", 17.5).attr("letter-spacing", 1.4).text(zLabels[i]);
    g.append("text").attr("x", labelX + 18).attr("y", labelY[1])
        .attr("font-size", 17.5).attr("letter-spacing", 1.4).text(nLabels[i]);

    if (col === 0) {
        g.append("g").attr("transform", `translate(${x.range()[0]},0)`)
            .call(d3.axisLeft(y).tickValues(yLabelTicks).tickSize(0).tickPadding(11).tickFormat(d3.format(".1f")))
            .call(a => a.select(".domain").remove())
            .call(a => a.selectAll("text").attr("font-size", 23).attr("font-family", "DejaVu Sans").attr("dy", "0.4em").attr("fill", "#000"));
        const title = svg.append("text")
            .attr("transform", `translate(26,${row === 0 ? 311 : 704}) rotate(-90)`)
            .attr("font-size", 23).attr("letter-spacing", 1.3);
        title.append("tspan").text("log(SFR");
        title.append("tspan").attr("font-size", 15).attr("dy", 4).text("uv");
        title.append("tspan").attr("dy", -4).text("/M");
        title.append("tspan").attr("font-size", 16).attr("dy", 4).text("\u2299");
        title.append("tspan").attr("dy", -4).text("yr");
        title.append("tspan").attr("font-size", 17).attr("dy", -9).text("\u22121");
        title.append("tspan").attr("dy", 9).text(")");
    }
    if (row === 1) {
        g.append("g").attr("transform", `translate(0,${y.range()[0]})`)
            .call(d3.axisBottom(x).tickValues(xTicks).tickSize(0).tickPadding(24).tickFormat(d3.format("d")))
            .call(a => a.select(".domain").remove())
            .call(a => a.selectAll("text").attr("font-size", 23).attr("font-family", "DejaVu Sans").attr("fill", "#000"));
        const xTitle = svg.append("text")
            .attr("x", colLeft[col] + 110).attr("y", 859)
            .attr("font-size", 23).attr("letter-spacing", 1.8);
        xTitle.append("tspan").text("log(M/M");
        xTitle.append("tspan").attr("font-size", 16).attr("dy", 4).text("\u2299");
        xTitle.append("tspan").attr("dy", -4).text(")");
    }
});
</script>
</body>
</html>
